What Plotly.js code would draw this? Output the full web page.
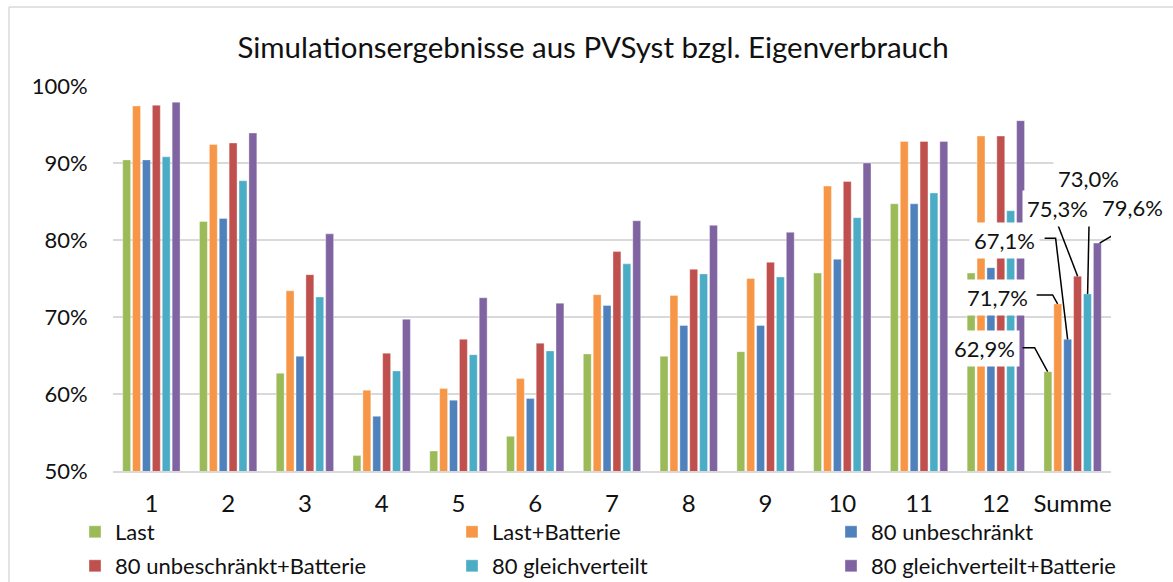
<!DOCTYPE html>
<html><head><meta charset="utf-8">
<script src="https://cdn.plot.ly/plotly-3.0.1.min.js"></script>
<style>html,body{margin:0;padding:0;background:#fff}#chart{width:1173px;height:582px}</style>
</head><body><div id="chart"></div>
<script>
// ---- data ----
const categories = ['1','2','3','4','5','6','7','8','9','10','11','12','Summe'];
const seriesNames = ['Last','Last+Batterie','80 unbeschränkt','80 unbeschränkt+Batterie','80 gleichverteilt','80 gleichverteilt+Batterie'];
const last                  = [90.4, 82.4, 62.7, 52.0, 52.6, 54.5, 65.2, 64.9, 65.5, 75.7, 84.7, 75.7, 62.9];
const lastBatterie          = [97.4, 92.4, 73.4, 60.5, 60.7, 62.0, 72.9, 72.8, 75.0, 87.0, 92.8, 93.5, 71.7];
const unbeschraenkt         = [90.4, 82.8, 64.9, 57.1, 59.2, 59.4, 71.5, 68.9, 68.9, 77.5, 84.7, 76.4, 67.1];
const unbeschraenktBatterie = [97.5, 92.6, 75.5, 65.3, 67.1, 66.6, 78.5, 76.2, 77.1, 87.6, 92.8, 93.5, 75.3];
const gleichverteilt        = [90.8, 87.7, 72.6, 63.0, 65.1, 65.6, 76.9, 75.6, 75.2, 82.9, 86.1, 83.8, 73.0];
const gleichverteiltBatt    = [97.9, 93.9, 80.8, 69.7, 72.5, 71.8, 82.5, 81.9, 81.0, 90.0, 92.8, 95.5, 79.6];
const yTickValues = [50, 60, 70, 80, 90, 100];
const yTickLabels = ['50%', '60%', '70%', '80%', '90%', '100%'];

// ---- style ----
const seriesValues = [last, lastBatterie, unbeschraenkt, unbeschraenktBatterie, gleichverteilt, gleichverteiltBatt];
const colors = ['#9BBB59','#F79646','#4F81BD','#C0504D','#4BACC6','#8064A2'];
const FONT = 'Lato, "Open Sans", sans-serif';
const TXT = '#111';
const legendIds = ['legend2','legend3','legend4','legend5','legend6','legend7'];

const traces = seriesValues.map((vals, i) => ({
  type: 'bar', name: seriesNames[i], x: categories, y: vals,
  marker: {color: colors[i], line: {color: 'rgba(255,255,255,0.6)', width: 0.6}},
  legend: legendIds[i], showlegend: true,
  hoverinfo: 'skip'
}));

// label layout for the last category (pixel offsets relative to bar top)
const lastIdx = categories.length - 1;
const barOffset = [-25, -15, -5, 5, 15, 25];
const labelLayout = [
  {dx: -63, dy: 23,  line: [[-25,24],[-13,24],[0,0]]},
  {dx: -60, dy: 6,   line: [[-21,9],[-5,9],[0,0]]},
  {dx: -63, dy: 99,  line: [[-23,101],[-12,101],[0,0]]},
  {dx: -20, dy: 68,  line: [[-20,52],[0,0]]},
  {dx: 1,   dy: 115, line: [[2,99],[0,0]]},
  {dx: 35,  dy: 36,  line: [[36,20],[2,0]]}
];
const fmt = v => v.toFixed(1).replace('.', ',') + '%';

const annotations = [];
const shapes = [];
seriesValues.forEach((vals, i) => {
  const v = vals[lastIdx];
  const L = labelLayout[i];
  annotations.push({
    x: categories[lastIdx], y: v, xref: 'x', yref: 'y',
    xshift: barOffset[i] + L.dx, yshift: L.dy,
    text: fmt(v), showarrow: false, bgcolor: '#fff', borderpad: 4,
    font: {family: FONT, size: 22, color: TXT}
  });
  const path = L.line.map((p, k) => (k ? 'L' : 'M') + (barOffset[i] + p[0]) + ',' + p[1]).join(' ');
  shapes.push({
    type: 'path', xref: 'x', yref: 'y', xsizemode: 'pixel', ysizemode: 'pixel',
    xanchor: categories[lastIdx], yanchor: v, path: path,
    line: {color: '#000', width: 1.5}, layer: 'above'
  });
});

// chart border (left & top visible)
shapes.push({type: 'line', xref: 'paper', yref: 'paper', x0: -0.1042, x1: -0.1042, y0: 1.2052, y1: -0.35, line: {color: '#d9d9d9', width: 1.5}, layer: 'below'});
shapes.push({type: 'line', xref: 'paper', yref: 'paper', x0: -0.1042, x1: 1.1, y0: 1.2052, y1: 1.2052, line: {color: '#d9d9d9', width: 1.5}, layer: 'below'});

// legend positions (pixel position of each entry: column start, row centre)
const legendCols = [75, 452, 831];
const legendRows = [532, 566];
const layout = {
  width: 1173, height: 582,
  margin: {l: 113, r: 62, t: 86, b: 111, autoexpand: false},
  paper_bgcolor: '#fff', plot_bgcolor: '#fff',
  separators: ',.',
  showlegend: true,
  font: {family: FONT, color: TXT},
  title: {text: 'Simulationsergebnisse aus PVSyst bzgl. Eigenverbrauch',
          font: {family: FONT, size: 29.5, color: TXT},
          x: 593/1173, xanchor: 'center', y: 1 - 48/582, yanchor: 'middle', xref: 'container', yref: 'container'},
  barmode: 'group', bargap: 0.227, bargroupgap: 0.2,
  xaxis: {type: 'category', range: [-0.5, categories.length - 0.5], fixedrange: true,
          tickfont: {family: FONT, size: 24, color: TXT},
          ticks: 'outside', ticklen: 11, tickcolor: 'rgba(0,0,0,0)',
          showgrid: false, showline: true, linecolor: '#d9d9d9', linewidth: 1.5, zeroline: false},
  yaxis: {range: [50, 100], tickvals: yTickValues, ticktext: yTickLabels,
          tickfont: {family: FONT, size: 22, color: TXT},
          ticks: 'outside', ticklen: 20, tickcolor: 'rgba(0,0,0,0)',
          showgrid: true, gridcolor: '#d9d9d9', gridwidth: 1.5, zeroline: false, showline: false},
  annotations: annotations,
  shapes: shapes
};
legendIds.forEach((id, i) => {
  layout[id] = {
    orientation: 'h', xanchor: 'left', yanchor: 'middle',
    x: (legendCols[i % 3] - 113) / 998, y: (471 - legendRows[Math.floor(i / 3)]) / 385,
    font: {family: FONT, size: 22, color: TXT}, bgcolor: 'rgba(0,0,0,0)'
  };
});

Plotly.newPlot('chart', traces, layout, {displayModeBar: false, staticPlot: true});
</script>
</body></html>
